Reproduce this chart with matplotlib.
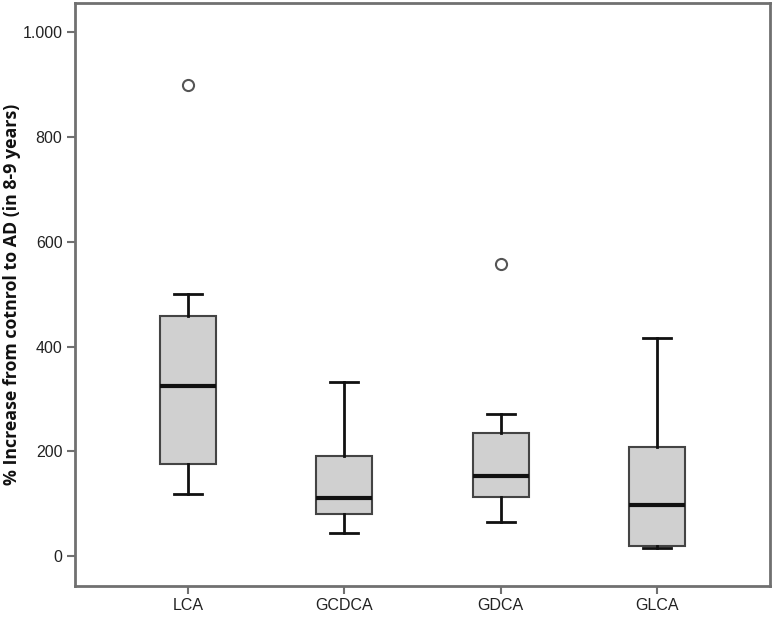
import matplotlib
matplotlib.use("Agg")
import matplotlib.pyplot as plt
from matplotlib.ticker import FuncFormatter

plt.rcParams['font.family'] = ['Liberation Sans', 'DejaVu Sans']

categories = ["LCA", "GCDCA", "GDCA", "GLCA"]
whisker_low = [118, 44, 66, 16]
q1 = [175, 81, 113, 20]
median = [324, 111, 153, 98]
q3 = [459, 192, 236, 209]
whisker_high = [500, 333, 272, 416]
outliers = [[900], [], [557], []]
y_ticks = [0, 200, 400, 600, 800, 1000]

stats = []
for i, c in enumerate(categories):
    stats.append(dict(label=c, whislo=whisker_low[i], q1=q1[i], med=median[i],
                      q3=q3[i], whishi=whisker_high[i], fliers=outliers[i]))

fig = plt.figure(figsize=(7.74, 6.17), dpi=100)
ax = fig.add_axes([75/774, 31/617, 695/774, 583/617])

positions = list(range(1, len(categories) + 1))
ax.bxp(stats, positions=positions, widths=0.36, patch_artist=True,
       boxprops=dict(facecolor='#d0d0d0', edgecolor='#444444', linewidth=1.5),
       medianprops=dict(color='#111111', linewidth=3),
       whiskerprops=dict(color='#111111', linewidth=2),
       capprops=dict(color='#111111', linewidth=2),
       flierprops=dict(marker='o', markerfacecolor='white', markeredgecolor='#555555',
                       markersize=8, markeredgewidth=1.5))

ax.set_xlim(0.277, 4.723)
ax.set_ylim(-57, 1056)
ax.set_yticks(y_ticks)
ax.yaxis.set_major_formatter(FuncFormatter(lambda v, p: f"{int(v):,}".replace(",", ".")))
ax.set_xticks(positions)
ax.set_xticklabels(categories)

for s in ax.spines.values():
    s.set_color('#707070')
    s.set_linewidth(2)

ax.tick_params(axis='both', direction='out', length=6, width=1.5, color='#707070',
               labelsize=11.5, labelcolor='#222222', pad=3)
ax.set_ylabel("% Increase from cotnrol to AD (in 8-9 years)", fontsize=12.8,
              fontweight='bold', color='#111111', family=['Open Sans', 'DejaVu Sans'])
ax.yaxis.set_label_coords(-0.078, 0.5)

fig.savefig("out.png", dpi=100)
